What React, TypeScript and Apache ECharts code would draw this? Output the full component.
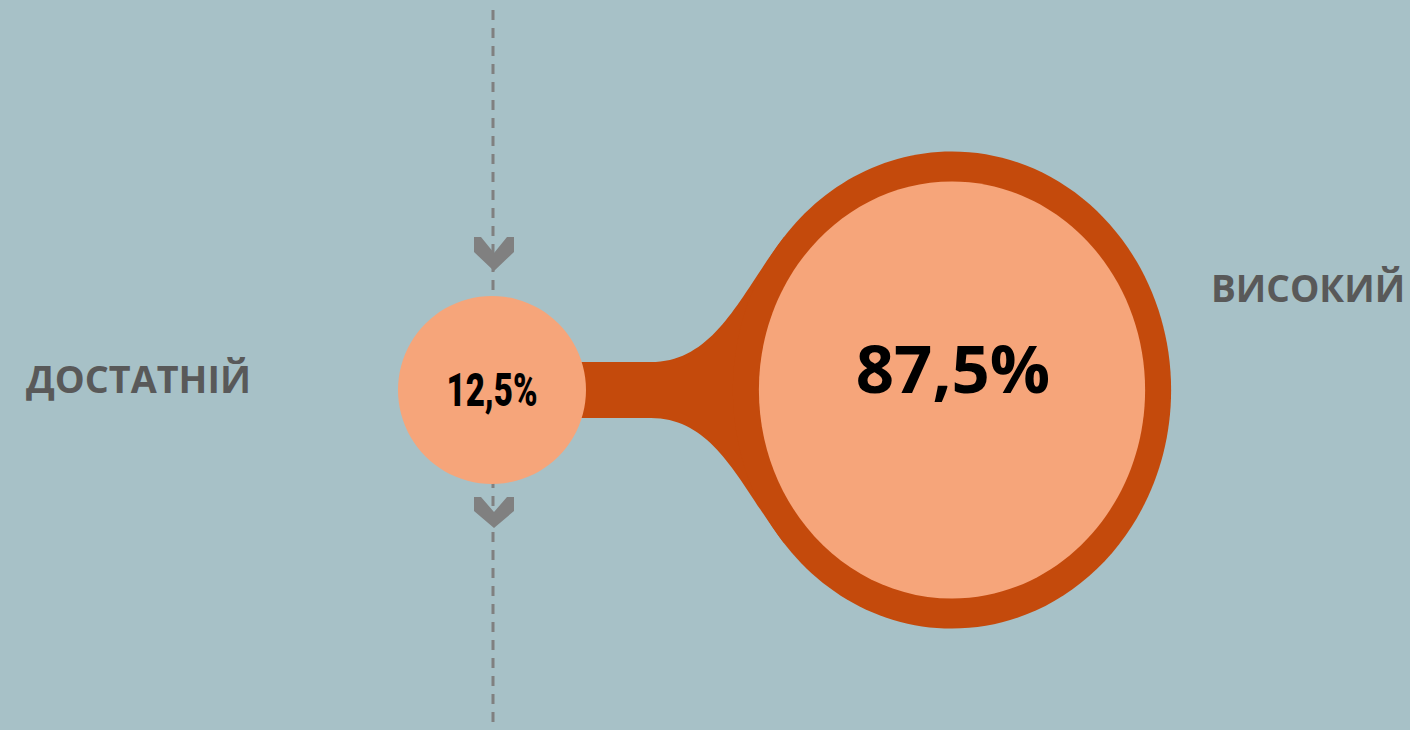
import React, { useEffect, useRef } from "react";
import * as echarts from "echarts";

const categories = ["ДОСТАТНІЙ", "ВИСОКИЙ"];
const values = [12.5, 87.5];

const BG = "#a7c1c7";
const DARK = "#c44a0c";
const PEACH = "#f6a57a";
const GREY_TEXT = "#595959";
const GREY_LINE = "#808080";

function fmt(v: number) {
  return String(v).replace(".", ",") + "%";
}

export default function App() {
  const ref = useRef<HTMLDivElement>(null);
  useEffect(() => {
    if (!ref.current) return;
    const chart = echarts.init(ref.current, null, { renderer: "svg" });
    const minV = Math.min(...values);
    const maxV = Math.max(...values);
    const radius = (v: number) => 94 * Math.pow(v / minV, 0.37);

    const renderItem = (params: any, api: any) => {
      const idx = api.value(0);
      const v = api.value(2);
      const [x, y] = api.coord([idx, 0]);
      const cs = params.coordSys;
      const r = radius(v);
      const children: any[] = [];
      if (v !== maxV) {
        children.push({
          type: "line",
          z2: 0,
          shape: { x1: x + 1, y1: cs.y, x2: x + 1, y2: cs.y + cs.height },
          style: { stroke: GREY_LINE, lineWidth: 3, lineDash: [10, 8] },
        });
        const top = [[-20, -153], [-13, -153], [0, -137], [13, -153], [20, -153], [20, -138], [0, -119], [-20, -138]];
        const bot = [[-20, 107], [-13, 107], [0, 122], [13, 107], [20, 107], [20, 121], [0, 138], [-20, 121]];
        [top, bot].forEach((pts) =>
          children.push({
            type: "polygon",
            z2: 5,
            shape: { points: pts.map(([dx, dy]) => [x + 2 + dx, y + dy]) },
            style: { fill: GREY_LINE },
          })
        );
        children.push({
          type: "circle",
          z2: 3,
          shape: { cx: x, cy: y, r },
          style: { fill: PEACH },
        });
        children.push({
          type: "text",
          z2: 6,
          x: x,
          y: y + 1,
          scaleX: 0.72,
          style: {
            text: fmt(v),
            x: 0,
            y: 0,
            align: "center",
            verticalAlign: "middle",
            fontFamily: "Roboto",
            fontWeight: 900,
            fontSize: 46,
            fill: "#000",
          },
        });
        children.push({
          type: "text",
          z2: 6,
          x: x - 241,
          y: y - 11.5,
          scaleX: 1.02,
          style: {
            text: categories[idx],
            align: "right",
            verticalAlign: "middle",
            fontFamily: "Open Sans",
            fontWeight: 700,
            fontSize: 37,
            fill: GREY_TEXT,
          },
        });
      } else {
        const rx = r;
        const ry = r * 1.08;
        const orx = rx + 26;
        const ory = ry + 30;
        const t = (140 * Math.PI) / 180;
        values.forEach((ov, j) => {
          if (j === idx) return;
          const [ox] = api.coord([j, 0]);
          const r0 = radius(ov);
          const h = 28;
          const neck = ox + r0 + 65;
          const c1 = neck + 65;
          const tx = x + orx * Math.cos(t);
          const tyOff = ory * Math.sin(t);
          let dx = -orx * Math.sin(t);
          let dy = -ory * Math.cos(t);
          const len = Math.sqrt(dx * dx + dy * dy);
          dx /= len;
          dy /= len;
          const k = 70;
          const c2x = tx + k * dx;
          const c2yOff = tyOff - k * dy;
          const d =
            `M ${ox} ${y - h} L ${neck} ${y - h} ` +
            `C ${c1} ${y - h} ${c2x} ${y - c2yOff} ${tx} ${y - tyOff} ` +
            `L ${x} ${y} L ${tx} ${y + tyOff} ` +
            `C ${c2x} ${y + c2yOff} ${c1} ${y + h} ${neck} ${y + h} ` +
            `L ${ox} ${y + h} Z`;
          children.push({
            type: "path",
            z2: 1,
            shape: { pathData: d },
            style: { fill: DARK },
          });
        });
        children.push({
          type: "ellipse",
          z2: 2,
          shape: { cx: x, cy: y, rx: orx, ry: ory },
          style: { fill: DARK },
        });
        children.push({
          type: "ellipse",
          z2: 3,
          shape: { cx: x, cy: y, rx, ry },
          style: { fill: PEACH },
        });
        children.push({
          type: "text",
          z2: 6,
          x: x + 1,
          y: y - 23,
          style: {
            text: fmt(v),
            align: "center",
            verticalAlign: "middle",
            fontFamily: "Open Sans",
            fontWeight: 700,
            fontSize: 67,
            fill: "#000",
          },
        });
        children.push({
          type: "text",
          z2: 6,
          x: x + 259,
          y: y - 103,
          style: {
            text: categories[idx],
            align: "left",
            verticalAlign: "middle",
            fontFamily: "Open Sans",
            fontWeight: 700,
            fontSize: 37,
            fill: GREY_TEXT,
          },
        });
      }
      return { type: "group", children };
    };

    chart.setOption({
      animation: false,
      backgroundColor: BG,
      grid: { left: 262, right: 228, top: 10, bottom: 0 },
      xAxis: {
        type: "category",
        data: categories,
        show: false,
        boundaryGap: true,
      },
      yAxis: { type: "value", min: -34, max: 38, show: false },
      series: [
        {
          type: "custom",
          clip: false,
          encode: { x: 0, y: 1 },
          data: categories.map((c, i) => ({ name: c, value: [i, 0, values[i]] })),
          renderItem,
        },
      ],
    });
    return () => chart.dispose();
  }, []);
  return (
    <div
      ref={ref}
      style={{ position: "fixed", left: 0, top: 0, width: 1410, height: 730 }}
    />
  );
}
